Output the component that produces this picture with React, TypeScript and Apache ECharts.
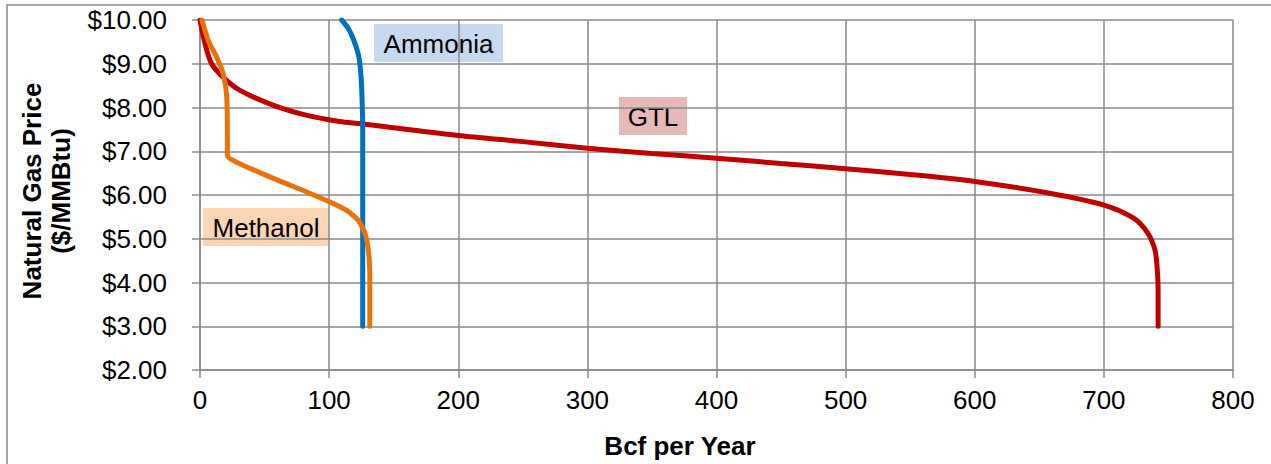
import React, { useEffect, useRef } from "react";
import * as echarts from "echarts";

// Bcf per Year (x) vs Natural Gas Price $/MMBtu (y)
const gtlX = [0, 3.9, 9, 18, 31, 57, 83, 108, 125, 147, 200, 250, 300, 350, 400, 450, 500, 550, 600, 658, 700, 723, 734, 739.6, 741.2, 742, 742];
const gtlY = [10, 9.46, 9.0, 8.69, 8.39, 8.05, 7.82, 7.68, 7.63, 7.55, 7.36, 7.22, 7.07, 6.95, 6.84, 6.72, 6.6, 6.47, 6.31, 6.04, 5.77, 5.47, 5.13, 4.74, 4.35, 3.83, 3.0];

const methanolX = [1.5, 6.4, 12.9, 18, 20.7, 21.2, 21.2, 28.4, 56.8, 82.6, 100.6, 113.6, 122.6, 127.8, 130.7, 131.5, 131.5];
const methanolY = [10, 9.53, 9.15, 8.77, 8.24, 7.17, 6.9, 6.75, 6.38, 6.07, 5.84, 5.65, 5.42, 5.12, 4.66, 4.13, 3.0];

const ammoniaX = [109.7, 115, 118.8, 122.7, 124.5, 125.5, 126, 126];
const ammoniaY = [10, 9.8, 9.56, 9.2, 8.8, 8.2, 7.5, 3.0];

const xTicks = [0, 100, 200, 300, 400, 500, 600, 700, 800];
const yTicks = [2, 3, 4, 5, 6, 7, 8, 9, 10];

const seriesNames = ["GTL", "Ammonia", "Methanol"];
const FONT = "Liberation Sans, Arial, sans-serif";

const zip = (xs: number[], ys: number[]) => xs.map((x, i) => [x, ys[i]]);

export default function App() {
  const ref = useRef<HTMLDivElement>(null);
  useEffect(() => {
    if (!ref.current) return;
    const chart = echarts.init(ref.current, null, { renderer: "svg" });
    const grid = "#8a8a8a";
    const labelBox = (x: number, y: number, w: number, h: number, fill: string, text: string) => ({
      type: "group",
      x,
      y,
      children: [
        { type: "rect", shape: { x: 0, y: 0, width: w, height: h }, style: { fill } },
        {
          type: "text",
          x: w / 2,
          y: h / 2 + 1,
          style: { text, fill: "#000", font: `26px ${FONT}`, align: "center", verticalAlign: "middle" },
        },
      ],
    });
    chart.setOption({
      animation: false,
      backgroundColor: "#fff",
      grid: { left: 200, top: 20, right: 38, bottom: 94 },
      xAxis: {
        type: "value",
        min: xTicks[0],
        max: xTicks[xTicks.length - 1],
        interval: 100,
        axisLine: { show: true, lineStyle: { color: grid, width: 1.5 } },
        axisTick: { show: true, length: 8, lineStyle: { color: grid, width: 1.5 } },
        splitLine: { show: true, lineStyle: { color: grid, width: 1.5 } },
        axisLabel: { color: "#000", fontSize: 26, fontFamily: FONT, margin: 17 },
      },
      yAxis: {
        type: "value",
        min: yTicks[0],
        max: yTicks[yTicks.length - 1],
        interval: 1,
        axisLine: { show: true, lineStyle: { color: grid, width: 1.5 } },
        axisTick: { show: true, length: 8, lineStyle: { color: grid, width: 1.5 } },
        splitLine: { show: true, lineStyle: { color: grid, width: 1.5 } },
        axisLabel: {
          color: "#000",
          fontSize: 26,
          fontFamily: FONT,
          margin: 33,
          formatter: (v: number) => "$" + v.toFixed(2),
        },
      },
      series: [
        {
          name: seriesNames[0],
          type: "line",
          data: zip(gtlX, gtlY),
          showSymbol: false,
          smooth: 0.3,
          lineStyle: { color: "#C00000", width: 5, cap: "round" },
          z: 2,
        },
        {
          name: seriesNames[1],
          type: "line",
          data: zip(ammoniaX, ammoniaY),
          showSymbol: false,
          smooth: 0.3,
          lineStyle: { color: "#0070C0", width: 5, cap: "round" },
          z: 3,
        },
        {
          name: seriesNames[2],
          type: "line",
          data: zip(methanolX, methanolY),
          showSymbol: false,
          smooth: 0.2,
          lineStyle: { color: "#E8720C", width: 5, cap: "round" },
          z: 4,
        },
      ],
      graphic: [
        {
          type: "rect",
          shape: { x: 7, y: 5, width: 1400, height: 600 },
          style: { fill: "none", stroke: "#8a8a8a", lineWidth: 1.5 },
          silent: true,
        },
        labelBox(374, 24, 129, 38, "#C6D9F1", seriesNames[1]),
        labelBox(619, 97, 68, 38, "#E6B9B8", seriesNames[0]),
        labelBox(203, 208, 126, 38, "#FCD5B5", seriesNames[2]),
        {
          type: "text",
          x: 680,
          y: 446,
          style: { text: "Bcf per Year", fill: "#000", font: `bold 26px ${FONT}`, align: "center", verticalAlign: "middle" },
        },
        {
          type: "text",
          x: 46,
          y: 191,
          rotation: Math.PI / 2,
          style: {
            text: "Natural Gas Price\n($/MMBtu)",
            fill: "#000",
            font: `bold 26px ${FONT}`,
            align: "center",
            verticalAlign: "middle",
            lineHeight: 29,
          },
        },
      ],
    });
    return () => chart.dispose();
  }, []);
  return <div ref={ref} style={{ position: "fixed", left: 0, top: 0, width: 1271, height: 464 }} />;
}
